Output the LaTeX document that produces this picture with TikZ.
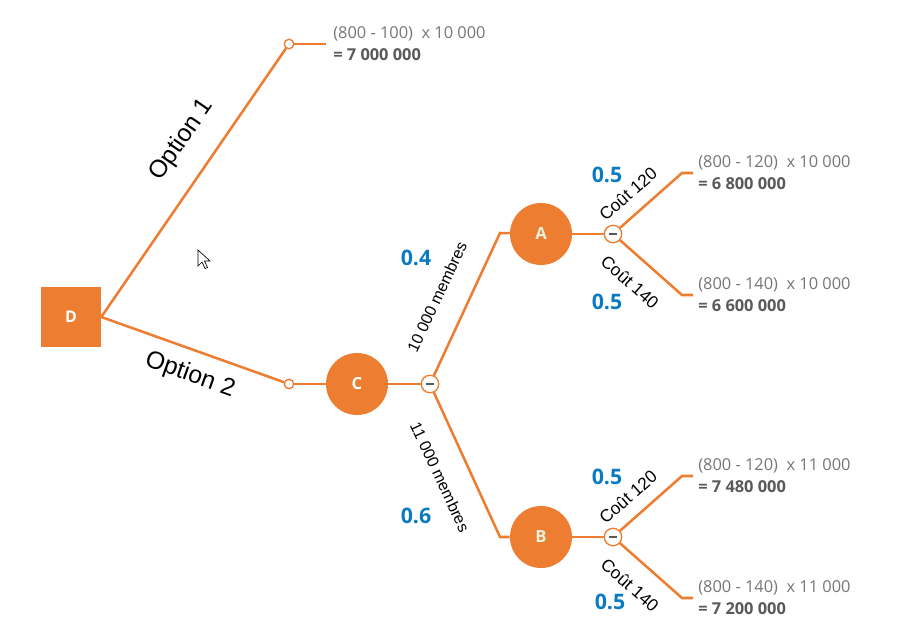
\documentclass[tikz,border=0pt]{standalone}
\usepackage{fontspec}
\setmainfont{Open Sans}
\newfontfamily\arialf{Liberation Sans}
\definecolor{org}{HTML}{ED7D31}
\definecolor{blu}{HTML}{0A7BC2}
\definecolor{gtxt}{HTML}{767676}
\definecolor{dtxt}{HTML}{595959}
\definecolor{pale}{HTML}{E6F2DC}
\tikzset{
  branch/.style={draw=org, line width=1.9pt},
  decbox/.style={rectangle, fill=org, minimum size=45pt, inner sep=0pt, text=white, font=\bfseries\fontsize{12}{14}\selectfont},
  chance/.style={circle, fill=org, minimum size=46.5pt, inner sep=0pt, font=\bfseries\fontsize{12.5}{14}\selectfont},
  endpt/.style={circle, draw=org, fill=white, line width=0.9pt, minimum size=7pt, inner sep=0pt},
  minusc/.style={circle, draw=org, fill=white, line width=0.9pt, minimum size=13pt, inner sep=0pt,
     path picture={\draw[dtxt, line width=1pt] (-3pt,0)--(3pt,0);}},
  formula/.style={align=left, text=gtxt, font=\fontsize{12.3}{16.5}\selectfont, inner sep=0pt},
  prob/.style={text=blu, font=\bfseries\fontsize{16}{18}\selectfont},
  lbl/.style={font=\arialf\fontsize{12}{14}\selectfont},
  costlbl/.style={font=\arialf\fontsize{13}{15}\selectfont},
  optlbl/.style={font=\arialf\fontsize{18.5}{20}\selectfont},
}
\begin{document}
\begin{tikzpicture}[x=0.75pt, y=-0.75pt]
\useasboundingbox (0,0) rectangle (904,638);
% nodes
\node[decbox] (D) at (71,317) {D};
\node[endpt] (o1) at (289,44) {};
\node[endpt] (o2) at (289,384) {};
\coordinate (e1) at (326,44);
\node[chance, text=white] (C) at (357,384) {C};
\node[minusc] (mC) at (430,384) {};
\coordinate (kA) at (500,233);
\coordinate (kB) at (500,537);
\node[chance, text=pale] (A) at (541,234) {A};
\node[chance, text=pale] (B) at (541,537) {B};
\node[minusc] (mA) at (613,234) {};
\node[minusc] (mB) at (613,537) {};
\coordinate (a1k) at (682,173); \coordinate (a1) at (693,173);
\coordinate (a2k) at (682,295); \coordinate (a2) at (693,295);
\coordinate (b1k) at (682,476); \coordinate (b1) at (693,476);
\coordinate (b2k) at (682,598); \coordinate (b2) at (693,598);
% branches
\draw[branch] (D.east) -- (o1);
\draw[branch] (o1) -- (e1);
\draw[branch] (D.east) -- (o2);
\draw[branch] (o2) -- (C);
\draw[branch] (C) -- (mC);
\draw[branch] (mC) -- (kA) -- (A);
\draw[branch] (mC) -- (kB) -- (B);
\draw[branch] (A) -- (mA);
\draw[branch] (B) -- (mB);
\draw[branch] (mA) -- (a1k) -- (a1);
\draw[branch] (mA) -- (a2k) -- (a2);
\draw[branch] (mB) -- (b1k) -- (b1);
\draw[branch] (mB) -- (b2k) -- (b2);
% redraw small nodes on top
\node[endpt] at (o1) {};
\node[endpt] at (o2) {};
\node[minusc] at (mC) {};
\node[minusc] at (mA) {};
\node[minusc] at (mB) {};
% formulas
\node[formula, anchor=west] (f0) at (333,44) {(800 - 100)\ \ x 10 000\\{\bfseries\color{dtxt}= 7 000 000}};
\node[formula, anchor=west] (f1) at (698,173) {(800 - 120)\ \ x 10 000\\{\bfseries\color{dtxt}= 6 800 000}};
\node[formula, anchor=west] (f2) at (698,295) {(800 - 140)\ \ x 10 000\\{\bfseries\color{dtxt}= 6 600 000}};
\node[formula, anchor=west] (f3) at (698,476) {(800 - 120)\ \ x 11 000\\{\bfseries\color{dtxt}= 7 480 000}};
\node[formula, anchor=west] (f4) at (698,598) {(800 - 140)\ \ x 11 000\\{\bfseries\color{dtxt}= 7 200 000}};
% labels
\node[optlbl, rotate=55.4] (l1) at (182,140) {Option 1};
\node[optlbl, rotate=-19.6] (l2) at (190,375) {Option 2};
\node[lbl, rotate=65] (l3) at (437,297) {10 000 membres};
\node[lbl, rotate=-65] (l4) at (440,477) {11 000 membres};
\node[costlbl, rotate=41.5] (l5) at (628,194) {Coût 120};
\node[costlbl, rotate=-41.5] (l6) at (630,282) {Coût 140};
\node[costlbl, rotate=41.5] (l7) at (628,497) {Coût 120};
\node[costlbl, rotate=-41.5] (l8) at (630,585) {Coût 140};
% probabilities
\node[prob] (p1) at (416,258) {0.4};
\node[prob] (p2) at (416,516) {0.6};
\node[prob] (p3) at (607,175) {0.5};
\node[prob] (p4) at (607,302) {0.5};
\node[prob] (p5) at (607,477) {0.5};
\node[prob] (p6) at (610,602) {0.5};
% mouse pointer
\draw[black, fill=white, line width=0.5pt] (198,250) -- (198,266) -- (202,262) -- (205,268.5) -- (207.5,267.5) -- (204.5,261) -- (210,261) -- cycle;
\end{tikzpicture}
\end{document}
